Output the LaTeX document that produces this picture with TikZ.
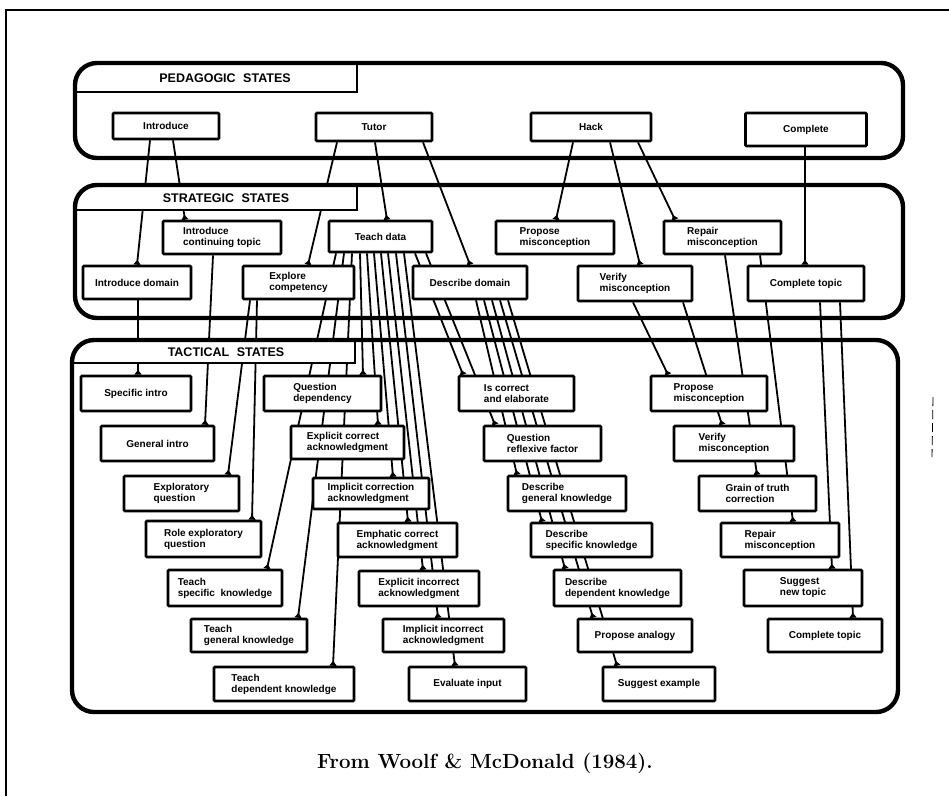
\documentclass[tikz,border=0pt]{standalone}
\usepackage{fontspec}
\newfontfamily\labfont{Liberation Sans}
\usetikzlibrary{arrows.meta}
\pgfdeclarelayer{lines}
\pgfdeclarelayer{frames}
\pgfsetlayers{lines,frames,main}
% connector from an offset on the lower edge of one state to an offset on the upper edge of another
\newcommand\joinst[4]{\draw[conn] ([xshift=#2pt]#1.south) -- ([xshift=#4pt]#3.north);}
\begin{document}
\begin{tikzpicture}[x=1pt,y=-1pt,
  state/.style={draw, line width=2.6pt, fill=white, rounded corners=1pt, inner sep=1pt,
    align=left, font=\labfont\bfseries\fontsize{10}{11}\selectfont},
  conn/.style={line width=1.8pt, -{Triangle[reversed,width=7pt,length=5pt]}},
  panel/.style={line width=4.4pt, rounded corners=22pt},
  hdrline/.style={line width=2.6pt},
  hdr/.style={font=\labfont\bfseries\fontsize{12.5}{14}\selectfont},
  sz/.style 2 args={minimum width=#1pt, minimum height=#2pt}]
\useasboundingbox (0,0) rectangle (949,796);

% page frame
\draw[line width=2pt] (6,796) -- (6,10) -- (949,10);
\draw[line width=0.8pt, dash pattern=on 9pt off 4pt] (933,397) -- (932,457);

% ---------- pedagogic states ----------
\node[state, sz={106}{26}] (pIntro) at (166,126) {Introduce};
\node[state, sz={116}{28}] (pTutor) at (374,127) {Tutor};
\node[state, sz={120}{28}] (pHack)  at (591,127) {Hack};
\node[state, sz={121}{33}] (pComp)  at (806,129.5) {Complete};

% ---------- strategic states ----------
\node[state, sz={118}{33}] (sCont)   at (222,237.5) {Introduce\\continuing topic};
\node[state, sz={103}{31}] (sTeach)  at (380.5,236.5) {Teach data};
\node[state, sz={118}{33}] (sProp)   at (555,237.5) {Propose\\misconception};
\node[state, sz={117}{33}] (sRep)    at (722.5,237.5) {Repair\\misconception};
\node[state, sz={108}{33}] (sDom)    at (137,282.5) {Introduce domain};
\node[state, sz={111}{33}] (sExpl)   at (298.5,282.5) {Explore\\competency};
\node[state, sz={114}{33}] (sDesc)   at (470,282.5) {Describe domain};
\node[state, sz={114}{35}] (sVer)    at (635,283.5) {Verify\\misconception};
\node[state, sz={116}{35}] (sComp)   at (806,283.5) {Complete topic};

% ---------- tactical states ----------
\node[state, sz={110}{35}] (tSpec)  at (136,393.5) {Specific intro};
\node[state, sz={113}{35}] (tGen)   at (157.5,443.5) {General intro};
\node[state, sz={115}{35}] (tExq)   at (181.5,493.5) {Exploratory\\question};
\node[state, sz={115}{36}] (tRole)  at (203.5,539) {Role exploratory\\question};
\node[state, sz={114}{36}] (tTsk)   at (225,588) {Teach\\specific\ \ knowledge};
\node[state, sz={116}{33}] (tTgk)   at (249,635.5) {Teach\\general knowledge};
\node[state, sz={140}{34}] (tTdk)   at (284,684) {Teach\\dependent knowledge};
\node[state, sz={117}{35}] (tQdep)  at (322.5,393.5) {Question\\dependency};
\node[state, sz={113}{33}] (tExc)   at (347.5,442.5) {Explicit correct\\acknowledgment};
\node[state, sz={116}{31}] (tImc)   at (371,493.5) {Implicit correction\\acknowledgment};
\node[state, sz={119}{34}] (tEmc)   at (397.5,540) {Emphatic correct\\acknowledgment};
\node[state, sz={120}{35}] (tExi)   at (419,588.5) {Explicit incorrect\\acknowledgment};
\node[state, sz={121}{33}] (tImi)   at (443.5,635.5) {Implicit incorrect\\acknowledgment};
\node[state, sz={117}{34}] (tEval)  at (467.5,684) {Evaluate input};
\node[state, sz={115}{35}] (tIsc)   at (516.5,393.5) {Is correct\\and elaborate};
\node[state, sz={117}{35}] (tQref)  at (542.5,443.5) {Question\\reflexive factor};
\node[state, sz={118}{35}] (tDgk)   at (567,493.5) {Describe\\general knowledge};
\node[state, sz={121}{34}] (tDsk)   at (591.5,540) {Describe\\specific knowledge};
\node[state, sz={127}{36}] (tDdk)   at (617.5,588) {Describe\\dependent knowledge};
\node[state, sz={114}{33}] (tAna)   at (635,635.5) {Propose analogy};
\node[state, sz={112}{34}] (tExa)   at (659,684) {Suggest example};
\node[state, sz={116}{35}] (tProp)  at (709,393.5) {Propose\\misconception};
\node[state, sz={120}{35}] (tVer)   at (734,443.5) {Verify\\misconception};
\node[state, sz={117}{35}] (tGrain) at (757.5,493.5) {Grain of truth\\correction};
\node[state, sz={118}{34}] (tRep)   at (780,540) {Repair\\misconception};
\node[state, sz={118}{36}] (tNew)   at (803,588) {Suggest\\new topic};
\node[state, sz={114}{33}] (tComp)  at (825,635.5) {Complete topic};

% ---------- panels and their headings ----------
\begin{pgfonlayer}{frames}
  \begin{scope}
    \clip[rounded corners=22pt] (75,63) rectangle (903,158);
    \fill[white] (75,63) rectangle (357,92);
  \end{scope}
  \begin{scope}
    \clip[rounded corners=22pt] (75,185) rectangle (903,318);
    \fill[white] (75,185) rectangle (357,210);
  \end{scope}
  \begin{scope}
    \clip[rounded corners=22pt] (72,340) rectangle (898,712);
    \fill[white] (72,340) rectangle (355,363);
  \end{scope}
  \draw[panel] (75,63) rectangle (903,158);
  \draw[panel] (75,185) rectangle (903,318);
  \draw[panel] (72,340) rectangle (898,712);
  \draw[hdrline] (357,63) -- (357,92) -- (75,92);
  \draw[hdrline] (357,185) -- (357,210) -- (75,210);
  \draw[hdrline] (355,340) -- (355,363) -- (72,363);
  \node[hdr] (hPed) at (225,78) {PEDAGOGIC\hspace{4pt} STATES};
  \node[hdr] (hStr) at (226,198) {STRATEGIC\hspace{4pt} STATES};
  \node[hdr] (hTac) at (226,352) {TACTICAL\hspace{4pt} STATES};
\end{pgfonlayer}

% ---------- connectors ----------
\begin{pgfonlayer}{lines}
  % pedagogic -> strategic
  \joinst{pIntro}{-16}{sDom}{0}
  \joinst{pIntro}{7}{sCont}{-37}
  \joinst{pTutor}{-37}{sExpl}{9.5}
  \joinst{pTutor}{1}{sTeach}{6.5}
  \joinst{pTutor}{49}{sDesc}{0}
  \joinst{pHack}{-18}{sProp}{1}
  \joinst{pHack}{19}{sVer}{5}
  \joinst{pHack}{47}{sRep}{-47.5}
  \joinst{pComp}{-1}{sComp}{-1}
  % strategic -> tactical
  \joinst{sDom}{1}{tSpec}{2}
  \joinst{sCont}{-9}{tGen}{47.5}
  \joinst{sExpl}{-48.5}{tExq}{46.5}
  \joinst{sExpl}{-41.5}{tRole}{48.5}
  \joinst{sTeach}{-44.5}{tTsk}{42}
  \joinst{sTeach}{-36.5}{tTgk}{49}
  \joinst{sTeach}{-28.5}{tTdk}{49}
  \joinst{sTeach}{-20.5}{tQdep}{40.5}
  \joinst{sTeach}{-13.5}{tExc}{30.5}
  \joinst{sTeach}{-6.5}{tImc}{22}
  \joinst{sTeach}{0.5}{tEmc}{10.5}
  \joinst{sTeach}{7.5}{tExi}{4}
  \joinst{sTeach}{15.5}{tImi}{-5.5}
  \joinst{sTeach}{23.5}{tEval}{-12.5}
  \joinst{sTeach}{34.5}{tIsc}{-53.5}
  \joinst{sTeach}{45.5}{tQref}{-47.5}
  \joinst{sDesc}{6}{tDgk}{-50}
  \joinst{sDesc}{14}{tDsk}{-49.5}
  \joinst{sDesc}{22}{tDdk}{-52.5}
  \joinst{sDesc}{30}{tAna}{-42}
  \joinst{sDesc}{38}{tExa}{-42}
  \joinst{sVer}{-2}{tProp}{-41}
  \joinst{sVer}{48}{tVer}{-12}
  \joinst{sRep}{2.5}{tGrain}{-0.5}
  \joinst{sRep}{37.5}{tRep}{13}
  \joinst{sComp}{14}{tNew}{29}
  \joinst{sComp}{34}{tComp}{28}
\end{pgfonlayer}

% caption
\node[font=\bfseries\fontsize{20.5}{24}\selectfont] (cap) at (485,763) {From Woolf \& McDonald (1984).};
\end{tikzpicture}
\end{document}
